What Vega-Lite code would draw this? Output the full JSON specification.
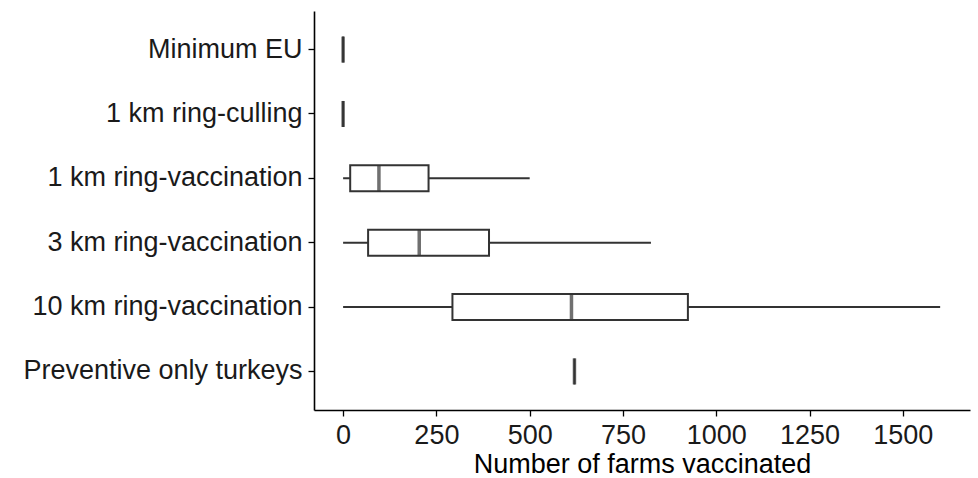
{
  "$schema": "https://vega.github.io/schema/vega-lite/v6.json",
  "width": 656,
  "height": 399,
  "autosize": {"type": "none"},
  "padding": {"left": 314, "top": 11, "right": 8, "bottom": 68},
  "background": "white",
  "config": {"view": {"stroke": null}, "font": "Liberation Sans"},
  "data": {"values": [
    {"strategy": "Minimum EU", "lower": 0, "q1": 0, "median": 0, "q3": 0, "upper": 0},
    {"strategy": "1 km ring-culling", "lower": 0, "q1": 0, "median": 0, "q3": 0, "upper": 0},
    {"strategy": "1 km ring-vaccination", "lower": 0, "q1": 19, "median": 96, "q3": 229, "upper": 500},
    {"strategy": "3 km ring-vaccination", "lower": 0, "q1": 67, "median": 204, "q3": 391, "upper": 825},
    {"strategy": "10 km ring-vaccination", "lower": 0, "q1": 293, "median": 612, "q3": 924, "upper": 1600},
    {"strategy": "Preventive only turkeys", "lower": 620, "q1": 620, "median": 620, "q3": 620, "upper": 620}
  ]},
  "encoding": {
    "y": {
      "field": "strategy",
      "type": "nominal",
      "sort": ["Minimum EU", "1 km ring-culling", "1 km ring-vaccination", "3 km ring-vaccination", "10 km ring-vaccination", "Preventive only turkeys"],
      "scale": {"type": "band", "paddingInner": 0, "paddingOuter": 0.1},
      "axis": {
        "title": null,
        "domainColor": "#000000",
        "domainWidth": 1.6,
        "tickColor": "#000000",
        "tickWidth": 1.3,
        "tickSize": 6,
        "labelFontSize": 27,
        "labelColor": "#1a1a1a",
        "labelPadding": 6,
        "labelLimit": 400
      }
    }
  },
  "layer": [
    {
      "mark": {"type": "rule", "color": "#333333", "strokeWidth": 2},
      "encoding": {
        "x": {
          "field": "lower",
          "type": "quantitative",
          "scale": {"domain": [-78, 1680], "nice": false, "zero": false},
          "axis": {
            "title": "Number of farms vaccinated",
            "values": [0, 250, 500, 750, 1000, 1250, 1500],
            "format": "d",
            "grid": false,
            "domainColor": "#000000",
            "domainWidth": 1.6,
            "tickColor": "#000000",
            "tickWidth": 1.3,
            "tickSize": 6,
            "labelFontSize": 27,
            "labelColor": "#1a1a1a",
            "labelPadding": 6,
            "titleFontSize": 27,
            "titleFontWeight": "normal",
            "titleColor": "#000000",
            "titlePadding": 3
          }
        },
        "x2": {"field": "upper"}
      }
    },
    {
      "mark": {"type": "bar", "fill": "white", "stroke": "#333333", "strokeWidth": 2, "size": 26},
      "encoding": {
        "x": {"field": "q1", "type": "quantitative"},
        "x2": {"field": "q3"}
      }
    },
    {
      "mark": {"type": "tick", "color": "#333333", "thickness": 3.5, "size": 26, "orient": "vertical"},
      "encoding": {
        "x": {"field": "median", "type": "quantitative"}
      }
    }
  ]
}
